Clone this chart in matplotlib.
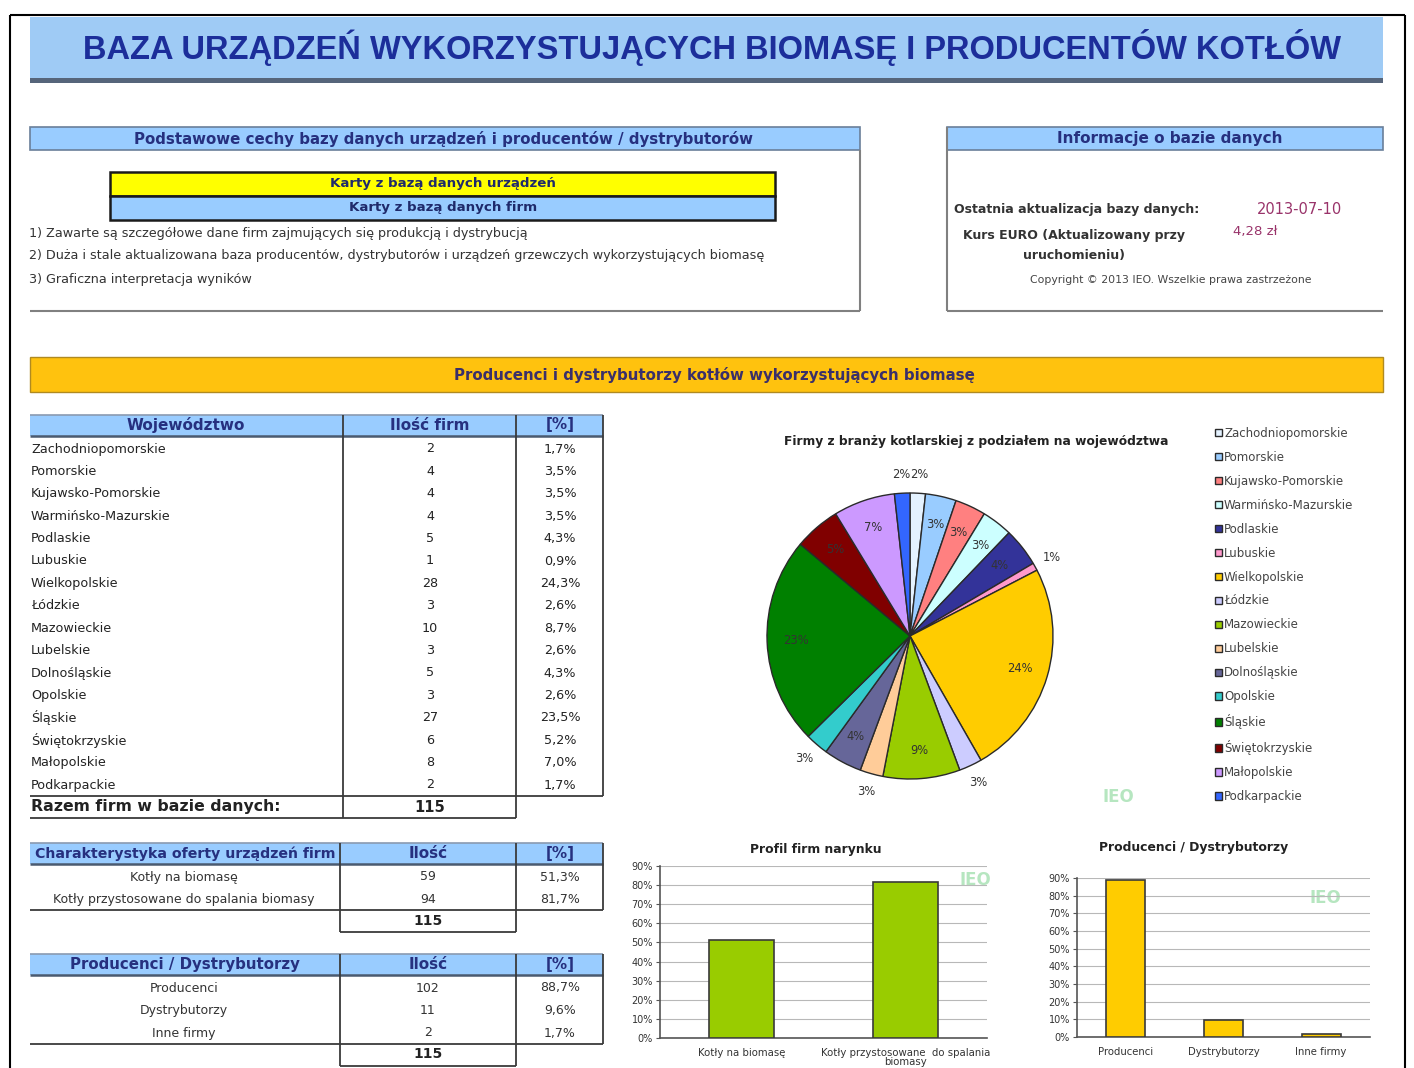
import matplotlib
matplotlib.use("Agg")
import numpy as np
import matplotlib.pyplot as plt
from matplotlib.patches import Rectangle
from matplotlib.ticker import FuncFormatter

plt.rcParams["font.family"] = ["DejaVu Sans"]

# ---------------------------------------------------------------- data
wojewodztwa = ["Zachodniopomorskie", "Pomorskie", "Kujawsko-Pomorskie", "Warmińsko-Mazurskie",
               "Podlaskie", "Lubuskie", "Wielkopolskie", "Łódzkie", "Mazowieckie", "Lubelskie",
               "Dolnośląskie", "Opolskie", "Śląskie", "Świętokrzyskie", "Małopolskie", "Podkarpackie"]
firmy = [2, 4, 4, 4, 5, 1, 28, 3, 10, 3, 5, 3, 27, 6, 8, 2]
razem = 115

pie_colors = ["#E4F2FF", "#99CCFF", "#FF8080", "#CCFFFF", "#333399", "#FF99CC", "#FFCC00", "#CCCCFF",
              "#99CC00", "#FFCC99", "#666699", "#33CCCC", "#008000", "#800000", "#CC99FF", "#3366FF"]
pie_outside = [1, 0, 0, 0, 0, 1, 0, 1, 0, 1, 0, 1, 0, 0, 0, 1]

oferta = ["Kotły na biomasę", "Kotły przystosowane do spalania biomasy"]
oferta_ilosc = [59, 94]
oferta_ticks = ["Kotły na biomasę", "Kotły przystosowane  do spalania\nbiomasy"]

typ = ["Producenci", "Dystrybutorzy", "Inne firmy"]
typ_ilosc = [102, 11, 2]

pct_ticks = [0, 0.1, 0.2, 0.3, 0.4, 0.5, 0.6, 0.7, 0.8, 0.9]


def pct(v):
    return f"{v / razem * 100:.1f}%".replace(".", ",")


# ---------------------------------------------------------------- canvas
W, H = 1414, 1068
fig = plt.figure(figsize=(W / 100, H / 100), dpi=100, facecolor="white")
bg = fig.add_axes([0, 0, 1, 1])
bg.set_xlim(0, W)
bg.set_ylim(H, 0)
bg.axis("off")

NAVY = "#26307F"
LINE = "#3A3A3A"
HEAD = "#99CCFF"


def box(x0, y0, x1, y1, fc="none", ec="none", lw=1.0, z=1):
    bg.add_patch(Rectangle((x0, y0), x1 - x0, y1 - y0, facecolor=fc, edgecolor=ec, lw=lw, zorder=z))


def line(x0, y0, x1, y1, color=LINE, lw=1.3):
    bg.plot([x0, x1], [y0, y1], color=color, lw=lw, zorder=3, solid_capstyle="butt")


def txt(x, y, s, size=7.5, color="#222222", ha="center", weight="normal", **kw):
    bg.text(x, y, s, fontsize=size, color=color, ha=ha, va="center", fontweight=weight, zorder=4, **kw)


# outer frame
line(10, 15, 1405, 15, "#000000", 1.5)
line(10, 15, 10, H, "#000000", 1.5)
line(1405, 15, 1405, H, "#000000", 1.5)

# title band
box(30, 17, 1383, 79, fc="#9FCBF5")
box(30, 78, 1383, 83, fc="#56657A")
txt(712, 47, "BAZA URZĄDZEŃ WYKORZYSTUJĄCYCH BIOMASĘ I PRODUCENTÓW KOTŁÓW", 23.5, "#1C2E9A",
    weight="bold", family=["Liberation Sans Narrow", "Liberation Sans", "DejaVu Sans"])

# basic features box
box(30, 127, 860, 150, fc=HEAD, ec="#6A7F99", lw=1.2)
line(860, 150, 860, 311, "#808080", 1.5)
line(30, 311, 860, 311, "#808080", 1.5)
txt(443, 139, "Podstawowe cechy bazy danych urządzeń i producentów / dystrybutorów", 10.8, NAVY, weight="bold")
box(110, 172, 775, 196, fc="#FFFF00", ec="#1A1A1A", lw=1.8)
box(110, 196, 775, 220, fc=HEAD, ec="#1A1A1A", lw=1.8)
txt(443, 184, "Karty z bazą danych urządzeń", 9.6, "#1F2A6B", weight="bold")
txt(443, 208, "Karty z bazą danych firm", 9.6, "#1F2A6B", weight="bold")
txt(29, 234, "1) Zawarte są szczegółowe dane firm zajmujących się produkcją i dystrybucją", 9.2, "#333333", ha="left")
txt(29, 256, "2) Duża i stale aktualizowana baza producentów, dystrybutorów i urządzeń grzewczych wykorzystujących biomasę",
    9.2, "#333333", ha="left")
txt(29, 279, "3) Graficzna interpretacja wyników", 9.2, "#333333", ha="left")

# info box
box(947, 127, 1383, 150, fc=HEAD, ec="#6A7F99", lw=1.2)
line(947, 127, 947, 311, "#808080", 1.5)
line(947, 311, 1383, 311, "#808080", 1.5)
txt(1170, 139, "Informacje o bazie danych", 11, NAVY, weight="bold")
txt(954, 209, "Ostatnia aktualizacja bazy danych:", 9.0, "#333333", ha="left", weight="bold")
txt(1299, 209, "2013-07-10", 10.5, "#99336A")
txt(1074, 236, "Kurs EURO (Aktualizowany przy", 9.0, "#333333", weight="bold")
txt(1074, 256, "uruchomieniu)", 9.0, "#333333", weight="bold")
txt(1255, 232, "4,28 zł", 9.5, "#99336A")
txt(1171, 280, "Copyright © 2013 IEO. Wszelkie prawa zastrzeżone", 7.8, "#444444")

# orange band
box(30, 357, 1383, 392, fc="#FFC20E", ec="#B08A20", lw=1.0)
txt(714, 375, "Producenci i dystrybutorzy kotłów wykorzystujących biomasę", 10.8, "#3A2F6A", weight="bold")

# ---------------------------------------------------------------- main table
box(30, 415, 603, 436, fc=HEAD)
line(30, 415, 603, 415, "#8A9AB0", 1.2)
line(30, 436, 603, 436, "#4A5A70", 1.8)
txt(186, 425, "Województwo", 11, NAVY, weight="bold")
txt(430, 425, "Ilość firm", 11, NAVY, weight="bold")
txt(560, 425, "[%]", 11, NAVY, weight="bold")
row_h = 22.4
for i, (name, n) in enumerate(zip(wojewodztwa, firmy)):
    y = 449 + i * row_h
    txt(31, y, name, 9.2, "#222222", ha="left")
    txt(430, y, str(n), 9.2, "#222222")
    txt(560, y, pct(n), 9.2, "#222222")
line(343, 415, 343, 818)
line(516, 415, 516, 818)
line(603, 415, 603, 796)
line(30, 796, 603, 796)
line(30, 818, 516, 818)
txt(31, 807, "Razem firm w bazie danych:", 11.3, "#222222", ha="left", weight="bold")
txt(430, 807, str(razem), 10.5, "#222222", weight="bold")

# ---------------------------------------------------------------- small tables


def small_table(y0, title, labels, values, title_size=10.8):
    box(30, y0, 603, y0 + 21, fc=HEAD)
    line(30, y0, 603, y0, "#8A9AB0", 1.2)
    line(30, y0 + 21, 603, y0 + 21, "#4A5A70", 1.8)
    txt(185, y0 + 10.5, title, title_size, NAVY, weight="bold")
    txt(428, y0 + 10.5, "Ilość", 11, NAVY, weight="bold")
    txt(560, y0 + 10.5, "[%]", 11, NAVY, weight="bold")
    yb = y0 + 21 + len(values) * 22.5 + 1
    for j, (lab, v) in enumerate(zip(labels, values)):
        y = y0 + 34 + j * 22.5
        txt(184, y, lab, 9.0, "#333333")
        txt(428, y, str(v), 9.0, "#333333")
        txt(560, y, pct(v), 9.0, "#333333")
    line(340, y0, 340, yb + 22)
    line(516, y0, 516, yb + 22)
    line(603, y0, 603, yb)
    line(30, yb, 603, yb)
    line(340, yb + 22, 516, yb + 22)
    txt(428, yb + 11, str(razem), 10, "#222222", weight="bold")


small_table(843, "Charakterystyka oferty urządzeń firm", oferta, oferta_ilosc, title_size=10.2)
small_table(954, "Producenci / Dystrybutorzy", typ, typ_ilosc)

# IEO marks
for (x, y) in [(1118, 797), (975, 880), (1325, 898)]:
    txt(x, y, "IEO", 12, "#B6E6C0", weight="bold")

# ---------------------------------------------------------------- pie
txt(976, 441, "Firmy z branży kotlarskiej z podziałem na województwa", 8.8, "#222222", weight="bold")
ax_pie = fig.add_axes([(910 - 160) / W, 1 - (636 + 160) / H, 320 / W, 320 / H])
wedges, texts, autotexts = ax_pie.pie(
    firmy, colors=pie_colors, startangle=90, counterclock=False, radius=143 / 160,
    autopct=lambda p: f"{p:.0f}%", pctdistance=0.8,
    wedgeprops=dict(edgecolor="#2A2A2A", linewidth=1.0),
    textprops=dict(fontsize=8.3, color="#333333"))
for w, t, out in zip(wedges, autotexts, pie_outside):
    if out:
        ang = np.deg2rad((w.theta1 + w.theta2) / 2)
        r = w.r * 1.13
        t.set_position((r * np.cos(ang), r * np.sin(ang)))
ax_pie.set_xlim(-1, 1)
ax_pie.set_ylim(-1, 1)
ax_pie.set_aspect("equal")

fig.legend(wedges, wojewodztwa, loc="upper left", bbox_to_anchor=(1204 / W, 1 - 416 / H),
           frameon=False, fontsize=8.5, labelspacing=0.93, handlelength=0.6, handleheight=0.6,
           handletextpad=0.2, labelcolor="#444444")

# ---------------------------------------------------------------- bar charts
pct_fmt = FuncFormatter(lambda v, p: f"{v * 100:.0f}%")


def bar_chart(rect, title, title_xy, ticks, values, color):
    ax = fig.add_axes(rect)
    xs = list(range(len(values)))
    ax.bar(xs, [v / razem for v in values], width=0.4, color=color, edgecolor="#3A3A3A", lw=1.2, zorder=3)
    ax.set_ylim(0, 0.9)
    ax.set_xlim(-0.5, len(values) - 0.5)
    ax.set_yticks(pct_ticks)
    ax.yaxis.set_major_formatter(pct_fmt)
    ax.set_xticks(xs)
    ax.set_xticklabels(ticks, fontsize=7.3, color="#333333", linespacing=0.95)
    ax.tick_params(axis="y", labelsize=7.0, labelcolor="#333333", length=3, color="#555555", pad=2)
    ax.tick_params(axis="x", length=0, pad=7)
    ax.grid(axis="y", color="#B8B8B8", lw=0.8, zorder=0)
    for s in ["top", "right"]:
        ax.spines[s].set_visible(False)
    for s in ["left", "bottom"]:
        ax.spines[s].set_color("#555555")
        ax.spines[s].set_linewidth(1.2)
    ax.set_facecolor("none")
    txt(title_xy[0], title_xy[1], title, 8.9, "#222222", weight="bold")
    return ax


bar_chart([660 / W, 1 - 1038 / H, 327 / W, 172 / H], "Profil firm narynku", (816, 850),
          oferta_ticks, oferta_ilosc, "#99CC00")
bar_chart([1077 / W, 1 - 1037 / H, 293 / W, 159 / H], "Producenci / Dystrybutorzy", (1194, 848),
          typ, typ_ilosc, "#FFCC00")

fig.savefig("out.png", dpi=100, facecolor="white")
